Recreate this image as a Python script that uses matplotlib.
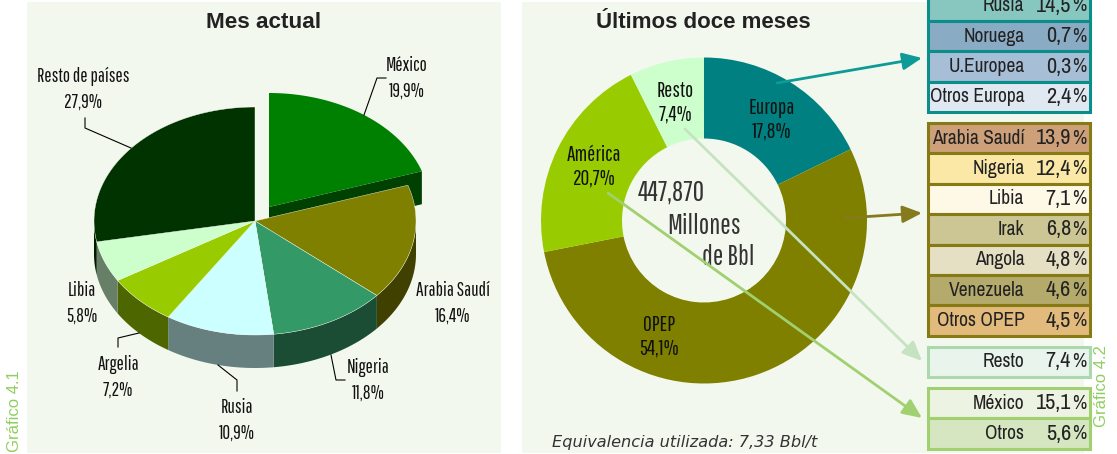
#!/usr/bin/env python
import numpy as np
import matplotlib
matplotlib.use('Agg')
import matplotlib.pyplot as plt
from matplotlib.patches import Rectangle

W, H = 1117, 454
GOTHIC = ['Pathway Gothic One', 'Liberation Sans']
TABLE = ['Archivo Narrow', 'Liberation Sans']
ARIAL = ['Liberation Sans']
BG = '#F3F8EE'

# Mes actual
pie_names = ['México', 'Arabia Saudí', 'Nigeria', 'Rusia', 'Argelia', 'Libia', 'Resto de países']
pie_values = [19.9, 16.4, 11.8, 10.9, 7.2, 5.8, 27.9]
pie_top = ['#008000', '#808000', '#339966', '#CCFFFF', '#99CC00', '#CCFFCC', '#003300']
pie_side = ['#004000', '#404000', '#1A4D33', '#667F7F', '#4D6600', '#667F66', '#001A00']

# Ultimos doce meses
ring_names = ['Europa', 'OPEP', 'América', 'Resto']
ring_values = [17.8, 54.1, 20.7, 7.4]
ring_colors = ['#008080', '#808000', '#99CC00', '#CCFFCC']

# detail tables
europe_names = ['Rusia', 'Noruega', 'U.Europea', 'Otros Europa']
europe_values = [14.5, 0.7, 0.3, 2.4]
europe_fill = ['#88C7C0', '#8AABC4', '#A7BFD6', '#E0E8F2']
opep_names = ['Arabia Saudí', 'Nigeria', 'Libia', 'Irak', 'Angola', 'Venezuela', 'Otros OPEP']
opep_values = [13.9, 12.4, 7.1, 6.8, 4.8, 4.6, 4.5]
opep_fill = ['#CDA07A', '#FBE8A6', '#FEF8E7', '#CCC594', '#E5DFC3', '#B4AA6B', '#E2BA7C']
resto_names = ['Resto']
resto_values = [7.4]
resto_fill = ['#E8F4EC']
america_names = ['México', 'Otros']
america_values = [15.1, 5.6]
america_fill = ['#EDF3E2', '#D5E6C1']


def pct(v):
    return ('%.1f' % v).replace('.', ',')


fig = plt.figure(figsize=(W / 100, H / 100), dpi=100, facecolor='white')
ax = fig.add_axes([0, 0, 1, 1], zorder=1)
ax.set_xlim(0, W)
ax.set_ylim(H, 0)
ax.axis('off')

ax.add_patch(Rectangle((27, 2), 474, 451, fc=BG, ec='none'))
ax.add_patch(Rectangle((522, 2), 562, 451, fc=BG, ec='none'))

# tilted pie, angles clockwise from the top
cx, cy, rx, ry, depth = 255, 221, 161, 114, 33
edges = np.cumsum([0] + pie_values) / sum(pie_values) * 2 * np.pi


def arc(a, b, x0, y0):
    t = np.linspace(a, b, 80)
    return x0 + rx * np.sin(t), y0 - ry * np.cos(t)


# exploded slice: cut face goes behind the rest
mx, my = cx + 14, cy - 14
ex, ey = arc(edges[0], edges[1], mx, my)
ax.fill([mx, ex[-1], ex[-1], mx], [my, ey[-1], ey[-1] + depth, my + depth], color=pie_side[0], lw=0, zorder=2)
ax.fill(np.r_[mx, ex], np.r_[my, ey], color=pie_top[0], lw=0, zorder=3)

for i in range(1, len(pie_values)):
    a, b = edges[i], edges[i + 1]
    lo, hi = max(a, np.pi / 2), min(b, 3 * np.pi / 2)
    if hi > lo:
        sx, sy = arc(lo, hi, cx, cy)
        ax.fill(np.r_[sx, sx[::-1]], np.r_[sy, sy[::-1] + depth], color=pie_side[i], lw=0, zorder=2)
for i in range(1, len(pie_values)):
    tx, ty = arc(edges[i], edges[i + 1], cx, cy)
    ax.fill(np.r_[cx, tx], np.r_[cy, ty], color=pie_top[i], ec=BG, lw=0.3, zorder=4)

# donut in its own axes, the pie call takes care of the angles
R = 163
ring_cx, ring_cy = 704, 220.5
size = 2 * R * 1.25
ax2 = fig.add_axes([(ring_cx - size / 2) / W, 1 - (ring_cy + size / 2) / H, size / W, size / H], zorder=2)
ax2.pie(ring_values, colors=ring_colors, startangle=90, counterclock=False, radius=1,
        wedgeprops=dict(width=0.497, linewidth=0))
ax2.patch.set_alpha(0)

ov = fig.add_axes([0, 0, 1, 1], zorder=3)
ov.set_xlim(0, W)
ov.set_ylim(H, 0)
ov.axis('off')
ov.patch.set_alpha(0)

# titles
ov.text(263.5, 22, 'Mes actual', family=ARIAL, fontsize=16.2, fontweight='bold', color='#222222', ha='center', va='center')
ov.text(703, 22, 'Últimos doce meses', family=ARIAL, fontsize=16, fontweight='bold', color='#222222', ha='center', va='center')

# pie labels
pie_label_x = [407, 453, 368, 237, 118, 82, 83]
pie_label_y = [78, 303, 380, 420, 377, 303, 89]
for name, v, x, y in zip(pie_names, pie_values, pie_label_x, pie_label_y):
    ov.text(x, y, name + '\n' + pct(v) + '%', family=GOTHIC, fontsize=13.8, color='#111111', ha='center', va='center',
            linespacing=1.42)

# leader lines
leaders = [
    ([364, 377, 386], [115, 78, 78]),
    ([131, 85, 85], [148, 128, 118]),
    ([331, 336, 345], [355, 380, 380]),
    ([218, 237, 237], [365, 380, 391]),
    ([139, 118, 118], [333, 338, 347]),
]
for lx, ly in leaders:
    ov.plot(lx, ly, color='black', lw=0.8)

# donut labels
ring_label_x = [772, 659, 594, 675]
ring_label_y = [120, 337, 167, 102.5]
for name, v, x, y in zip(ring_names, ring_values, ring_label_x, ring_label_y):
    ov.text(x, y, name + '\n' + pct(v) + '%', family=GOTHIC, fontsize=15.5, color='#111111', ha='center', va='center',
            linespacing=1.2)

ov.text(638, 193, '447,870', family=GOTHIC, fontsize=20, color='#333333', ha='left', va='center')
ov.text(667, 226, 'Millones', family=GOTHIC, fontsize=20, color='#333333', ha='left', va='center')
ov.text(702, 257, 'de Bbl', family=GOTHIC, fontsize=20, color='#333333', ha='left', va='center')

ov.text(552, 443, 'Equivalencia utilizada: 7,33 Bbl/t', family=['DejaVu Sans'], style='italic', fontsize=11.6,
        color='#333333', ha='left', va='center')

ov.text(15, 411, 'Gráfico 4.1', family=ARIAL, fontsize=12, color='#8FCF60', rotation=90, ha='center', va='center')
ov.text(1101, 386, 'Gráfico 4.2', family=ARIAL, fontsize=12, color='#8FCF60', rotation=90, ha='center', va='center')


def table(top, row_h, names, values, fills, border):
    left, right = 927.5, 1089.5
    y = top
    for name, v, fill in zip(names, values, fills):
        ov.add_patch(Rectangle((left, y), right - left, row_h, fc=fill, ec=border, lw=2.2, zorder=5))
        ov.text(1024.5, y + row_h / 2, name, family=TABLE, fontsize=14, color='#222222', ha='right', va='center', zorder=6)
        ov.text(1071, y + row_h / 2, pct(v), family=TABLE, fontsize=16, color='#222222', ha='right', va='center', zorder=6)
        ov.text(1086, y + row_h / 2, '%', family=TABLE, fontsize=14, color='#222222', ha='right', va='center', zorder=6)
        y += row_h


table(-9.5, 30.4, europe_names, europe_values, europe_fill, '#0B8E8A')
table(123, 30.4, opep_names, opep_values, opep_fill, '#857A14')
table(346.5, 30, resto_names, resto_values, resto_fill, '#ABD9AD')
table(388, 30.4, america_names, america_values, america_fill, '#A0D070')

# arrows
arrows = [
    ((777, 83), (922, 58), '#0E9A96'),
    ((845, 218), (922, 213), '#857A1E'),
    ((685, 129), (922, 361), '#C5E3C0'),
    ((608, 193), (922, 418), '#A0D070'),
]
for start, end, col in arrows:
    ov.annotate('', xy=end, xytext=start, zorder=4,
                arrowprops=dict(arrowstyle='-|>,head_length=0.9,head_width=0.4', color=col, lw=2,
                                shrinkA=0, shrinkB=0, mutation_scale=13))

fig.savefig('out.png', dpi=100)
